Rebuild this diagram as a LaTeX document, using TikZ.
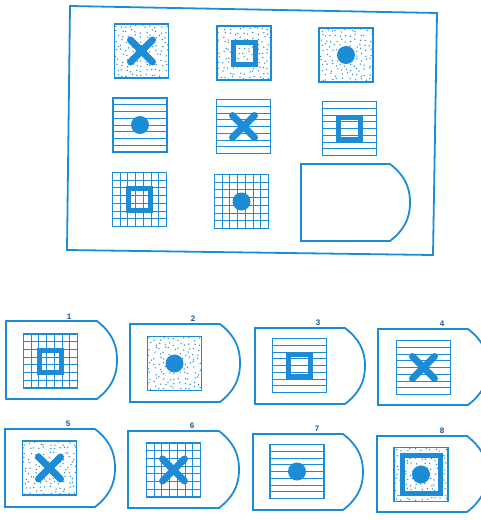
\documentclass[tikz,border=0pt]{standalone}
\usepackage{fontspec}
\setsansfont{Liberation Sans}
\definecolor{shapecol}{RGB}{28,140,214}
\definecolor{labelcol}{RGB}{20,90,150}
% picture parts, centre given in px
\newcommand{\stipple}[2]{\foreach \i in {0,...,10}{\foreach \j in {0,...,10}{
    \fill[shapecol] ({#1-24.5+4.9*\i+1.8*rand},{#2-24.5+4.9*\j+1.8*rand}) circle (0.75);}}}
\newcommand{\hatch}[2]{\foreach \k in {1,...,7}{\draw[thinline] ({#1-27},{#2-27+6.75*\k}) -- ({#1+27},{#2-27+6.75*\k});}}
\newcommand{\meshlines}[2]{\foreach \k in {1,...,6}{
    \draw[thinline] ({#1-27},{#2-27+54/7*\k}) -- ({#1+27},{#2-27+54/7*\k});
    \draw[thinline] ({#1-27+54/7*\k},{#2-27}) -- ({#1-27+54/7*\k},{#2+27});}}
\newcommand{\cellframe}[2]{\draw[boxline] ({#1-27},{#2-27}) rectangle ({#1+27},{#2+27});}
\newcommand{\markx}[2]{\draw[crossbar] ({#1-11},{#2-11}) -- ({#1+11},{#2+11}) ({#1-11},{#2+11}) -- ({#1+11},{#2-11});}
\newcommand{\markring}[2]{\draw[ringbar] ({#1-11},{#2-11}) rectangle ({#1+11},{#2+11});}
\newcommand{\markdot}[2]{\fill[shapecol] (#1,#2) circle (9);}
\newcommand{\shield}[4]{\draw[outline] (#1,#2) -- ({#3-20},#2) to[out=-38,in=90] (#3,{(#2+#4)/2}) to[out=-90,in=38] ({#3-20},#4) -- (#1,#4) -- cycle;}
\begin{document}
\begin{tikzpicture}[x=1pt,y=-1pt]
\tikzset{
  outline/.style={draw=shapecol,line width=1.8},
  boxline/.style={draw=shapecol,line width=1.4},
  thinline/.style={draw=shapecol,line width=0.9},
  crossbar/.style={draw=shapecol,line width=7,line cap=round},
  ringbar/.style={draw=shapecol,line width=5},
  numlabel/.style={font=\sffamily\bfseries\footnotesize,text=labelcol,inner sep=0.5pt,anchor=south}
}
\pgfmathsetseed{4}
\useasboundingbox (0,0) rectangle (480,520);
% question frame
\draw[outline] (70,6) -- (437,13) -- (433,255) -- (67,250) -- cycle;
% row 1: dots
\stipple{141.5}{51} \cellframe{141.5}{51} \markx{141.5}{51}
\stipple{244}{53} \cellframe{244}{53} \markring{244}{53}
\stipple{346}{55} \cellframe{346}{55} \markdot{346}{55}
% row 2: lines
\hatch{140}{125} \cellframe{140}{125} \markdot{140}{125}
\hatch{243.5}{126.5} \cellframe{243.5}{126.5} \markx{243.5}{126.5}
\hatch{349.5}{128.5} \cellframe{349.5}{128.5} \markring{349.5}{128.5}
% row 3: grid
\meshlines{139.5}{199.5} \cellframe{139.5}{199.5} \markring{139.5}{199.5}
\meshlines{241.5}{201.5} \cellframe{241.5}{201.5} \markdot{241.5}{201.5}
\shield{301}{164}{410}{241}
% answers
\shield{6}{321}{117}{399}
\node[numlabel] (l1) at (69,320) {1};
\meshlines{50.5}{361} \cellframe{50.5}{361} \markring{50.5}{361}
\shield{130}{324}{240}{402}
\node[numlabel] (l2) at (193,322) {2};
\stipple{174.5}{363.5} \cellframe{174.5}{363.5} \markdot{174.5}{363.5}
\shield{255}{328}{365}{404}
\node[numlabel] (l3) at (318,326) {3};
\hatch{299.5}{365.5} \cellframe{299.5}{365.5} \markring{299.5}{365.5}
\shield{378}{329}{488}{405}
\node[numlabel] (l4) at (442,327) {4};
\hatch{423.5}{367.5} \cellframe{423.5}{367.5} \markx{423.5}{367.5}
\shield{5}{429}{115}{507}
\node[numlabel] (l5) at (68,427) {5};
\stipple{49.5}{468} \cellframe{49.5}{468} \markx{49.5}{468}
\shield{128}{431}{239}{508}
\node[numlabel] (l6) at (192,429) {6};
\meshlines{173.5}{470} \cellframe{173.5}{470} \markx{173.5}{470}
\shield{253}{434}{363}{510}
\node[numlabel] (l7) at (317,432) {7};
\hatch{297}{471.5} \cellframe{297}{471.5} \markdot{297}{471.5}
\shield{377}{436}{487}{512}
\node[numlabel] (l8) at (442,434) {8};
\stipple{421}{474.5} \cellframe{421}{474.5}
\draw[ringbar] (402,455.5) rectangle (440,493.5);
\markdot{421}{474.5}
\end{tikzpicture}
\end{document}
